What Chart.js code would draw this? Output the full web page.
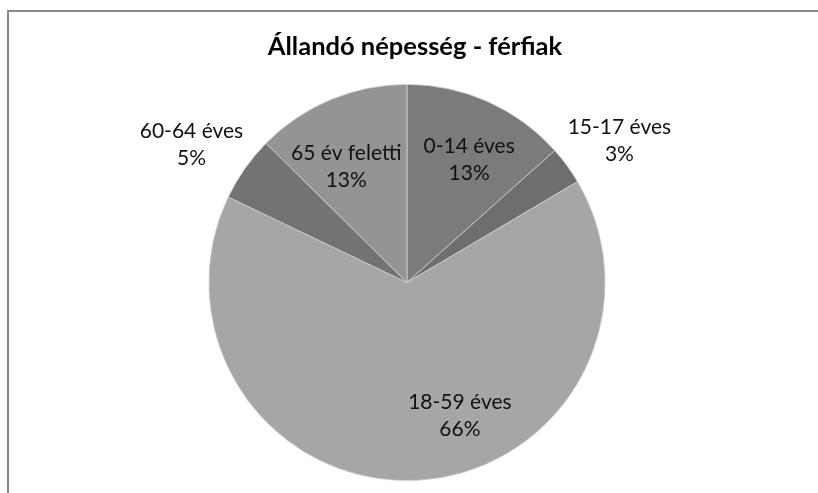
<!DOCTYPE html>
<html>
<head>
<meta charset="utf-8">
<script src="https://cdn.jsdelivr.net/npm/chart.js@4/dist/chart.umd.min.js"></script>
<style>
  html, body { margin: 0; padding: 0; background: #ffffff; overflow: hidden; }
  #wrap { position: relative; width: 818px; height: 493px; }
  #frame { position: absolute; left: 7px; top: 10px; width: 840px; height: 520px;
           border-top: 2px solid #8a8a8a; border-left: 2px solid #8a8a8a; box-sizing: border-box; pointer-events: none; }
  canvas { position: absolute; left: 0; top: 0; }
</style>
</head>
<body>
<div id="wrap">
  <canvas id="c" width="818" height="493"></canvas>
  <div id="frame"></div>
</div>
<script>
const chartTitle = "Állandó népesség - férfiak";
const categories = ["0-14 éves", "15-17 éves", "18-59 éves", "60-64 éves", "65 év feletti"];
const values = [13.4, 3.1, 65.6, 5.3, 12.6];
const sliceColors = ["#7b7b7b", "#6e6e6e", "#a6a6a6", "#737373", "#949494"];

// label placement tuning (radius factor, angle shift in degrees)
const labelRadius = [0.695, 1.29, 0.725, 1.29, 0.66];
const labelShift = [2.7, 2.4, -19.1, -2.6, -5.0];

const labelPlugin = {
  id: 'sliceLabels',
  afterDatasetsDraw(chart) {
    const ctx = chart.ctx;
    const meta = chart.getDatasetMeta(0);
    const data = chart.data.datasets[0].data;
    const total = data.reduce((a, b) => a + b, 0);
    ctx.save();
    ctx.font = '21px Lato, "Open Sans", sans-serif';
    ctx.fillStyle = '#111111';
    ctx.textAlign = 'center';
    ctx.textBaseline = 'middle';
    meta.data.forEach((arc, i) => {
      const p = arc.getProps(['x', 'y', 'startAngle', 'endAngle', 'outerRadius'], true);
      const mid = (p.startAngle + p.endAngle) / 2 + labelShift[i] * Math.PI / 180;
      const r = p.outerRadius * labelRadius[i];
      const cx = p.x + Math.cos(mid) * r;
      const cy = p.y + Math.sin(mid) * r;
      const pct = Math.round(data[i] / total * 100) + '%';
      ctx.fillText(chart.data.labels[i], cx, cy - 13.5);
      ctx.fillText(pct, cx, cy + 13.5);
    });
    // chart title
    ctx.font = 'bold 25.5px Lato, "Open Sans", sans-serif';
    ctx.fillStyle = '#000000';
    ctx.fillText(chartTitle, chart.chartArea.left + chart.chartArea.width / 2 + 8, 47);
    ctx.restore();
  }
};

new Chart(document.getElementById('c'), {
  type: 'pie',
  data: {
    labels: categories,
    datasets: [{
      data: values,
      backgroundColor: sliceColors,
      borderColor: '#d0d0d0',
      borderWidth: 0.8
    }]
  },
  options: {
    responsive: false,
    animation: false,
    events: [],
    layout: { padding: { top: 84, bottom: 12, left: 0, right: 4 } },
    plugins: {
      legend: { display: false },
      tooltip: { enabled: false },
      title: { display: false }
    }
  },
  plugins: [labelPlugin]
});
</script>
</body>
</html>
